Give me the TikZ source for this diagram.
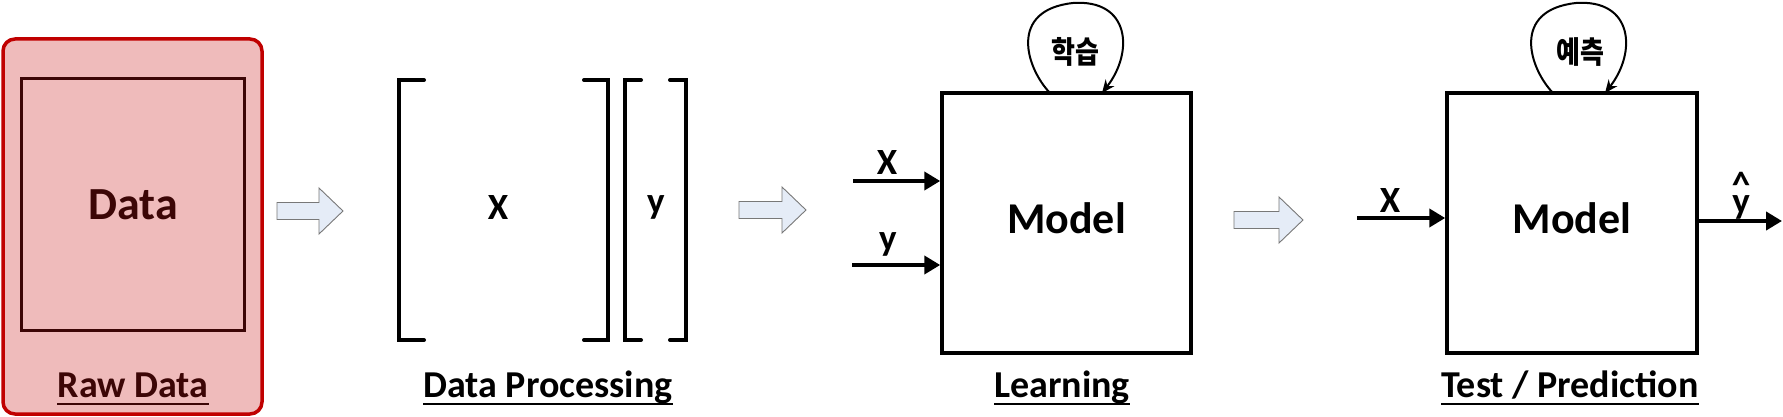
\documentclass[tikz,border=0pt]{standalone}
\usepackage{fontspec}
\setmainfont{Carlito}
\newfontfamily\kr{Noto Sans CJK KR}
\usetikzlibrary{arrows.meta}
\definecolor{rawfill}{RGB}{239,187,187}
\definecolor{rawred}{RGB}{192,0,0}
\definecolor{rawtext}{RGB}{60,6,6}
\definecolor{blkfill}{RGB}{229,236,247}
\definecolor{blkline}{RGB}{120,120,120}
\begin{document}
\begin{tikzpicture}[x=1pt,y=-1pt,
  lbl/.style={font=\fontsize{38}{40}\selectfont\bfseries, inner sep=0pt, anchor=base},
  sym/.style={font=\fontsize{37}{40}\selectfont\bfseries, inner sep=0pt, anchor=base},
  modeltxt/.style={font=\fontsize{44}{48}\selectfont\bfseries, inner sep=0pt, anchor=base},
  krtxt/.style={font=\kr\bfseries\fontsize{26}{30}\selectfont, inner sep=0pt},
  modelbox/.style={draw=black, line width=3.5pt, inner sep=0pt, minimum height=260pt},
  brk/.style={line width=4pt, line cap=round},
  inarrow/.style={line width=4pt, -{Triangle[length=16pt,width=18pt]}},
  loopline/.style={line width=2pt, -{Stealth[length=13pt,width=11pt]}},
  uline/.style={line width=2.6pt},
  blk/.style={draw=blkline, fill=blkfill, line width=0.9pt, line join=miter}
]
\useasboundingbox (0,0) rectangle (1783,417);

% ---------- Raw data ----------
\node[draw=rawred, fill=rawfill, line width=3.5pt, rounded corners=12pt,
      inner sep=0pt, minimum width=259pt, minimum height=375pt] (raw) at (132.5,226.5) {};
\node[draw=rawtext, line width=3pt, inner sep=0pt,
      minimum width=223pt, minimum height=252pt] (rawinner) at (133,204.5) {};
\node[font=\fontsize{46}{50}\selectfont\bfseries, text=rawtext, inner sep=0pt, anchor=base] (datatxt) at (133,219) {Data};
\node[lbl, text=rawtext] (lraw) at (133,397) {Raw Data};
\draw[uline, rawtext] ([yshift=-7pt]lraw.base west) -- ([yshift=-7pt]lraw.base east);

% ---------- block arrows ----------
\newcommand\blockarrow[3]{% x-left, x-tip, y-center
  \draw[blk] (#1,#3-8.5) -- (#2-24,#3-8.5) -- (#2-24,#3-23) -- (#2,#3)
     -- (#2-24,#3+23) -- (#2-24,#3+8.5) -- (#1,#3+8.5) -- cycle;}
\blockarrow{277}{343}{211}
\blockarrow{739}{806}{210}
\blockarrow{1234}{1303}{220}

% ---------- Data processing ----------
\draw[brk] (424,80) -- (399,80) -- (399,340) -- (424,340);
\draw[brk] (584,80) -- (608,80) -- (608,340) -- (584,340);
\draw[brk] (641,80) -- (625,80) -- (625,340) -- (641,340);
\draw[brk] (670,80) -- (686,80) -- (686,340) -- (670,340);
\node[sym] (bx) at (498,219) {X};
\node[sym] (by) at (656,213) {y};
\node[lbl] (ldp) at (548,397) {Data Processing};
\draw[uline] ([yshift=-7pt]ldp.base west) -- ([yshift=-7pt]ldp.base east);

% ---------- Learning ----------
\node[modelbox, minimum width=249pt] (learn) at (1066.5,223) {};
\node[modeltxt] (m1) at (1066.5,233) {Model};
\coordinate (lxs) at (853,181);
\coordinate (lys) at (852,265);
\draw[inarrow] (lxs) -- (lxs -| learn.west);
\draw[inarrow] (lys) -- (lys -| learn.west);
\node[sym] (lxl) at (887,175) {X};
\node[sym] (lyl) at (888,250) {y};
\coordinate (l1a) at (1050,93);
\coordinate (l1b) at (1102,93);
\draw[loopline] (l1a) .. controls (1026,68) and (1008,10) .. (1073,3)
   .. controls (1130,-1) and (1134,52) .. (l1b);
\node[krtxt] (hak) at (1075,52) {\scalebox{1}[1.18]{학습}};
\node[lbl] (llearn) at (1062,397) {Learning};
\draw[uline] ([yshift=-7pt]llearn.base west) -- ([yshift=-7pt]llearn.base east);

% ---------- Test / Prediction ----------
\node[modelbox, minimum width=250pt] (test) at (1572,223) {};
\node[modeltxt] (m2) at (1572,233) {Model};
\coordinate (txs) at (1357,218);
\draw[inarrow] (txs) -- (txs -| test.west);
\node[sym] (txl) at (1390,212) {X};
\coordinate (tout) at (1782,221);
\draw[inarrow] (tout -| test.east) -- (tout);
\node[sym] (yhat) at (1741,213) {\ooalign{y\cr\hidewidth\raisebox{0.42em}{\textasciicircum}\hidewidth\cr}};
\coordinate (l2a) at (1553,93);
\coordinate (l2b) at (1605,93);
\draw[loopline] (l2a) .. controls (1529,68) and (1511,10) .. (1576,3)
   .. controls (1633,-1) and (1637,52) .. (l2b);
\node[krtxt] (yech) at (1580,52) {\scalebox{1}[1.18]{예측}};
\node[lbl] (ltest) at (1570,397) {Test / Prediction};
\draw[uline] ([yshift=-7pt]ltest.base west) -- ([yshift=-7pt]ltest.base east);
\end{tikzpicture}
\end{document}
